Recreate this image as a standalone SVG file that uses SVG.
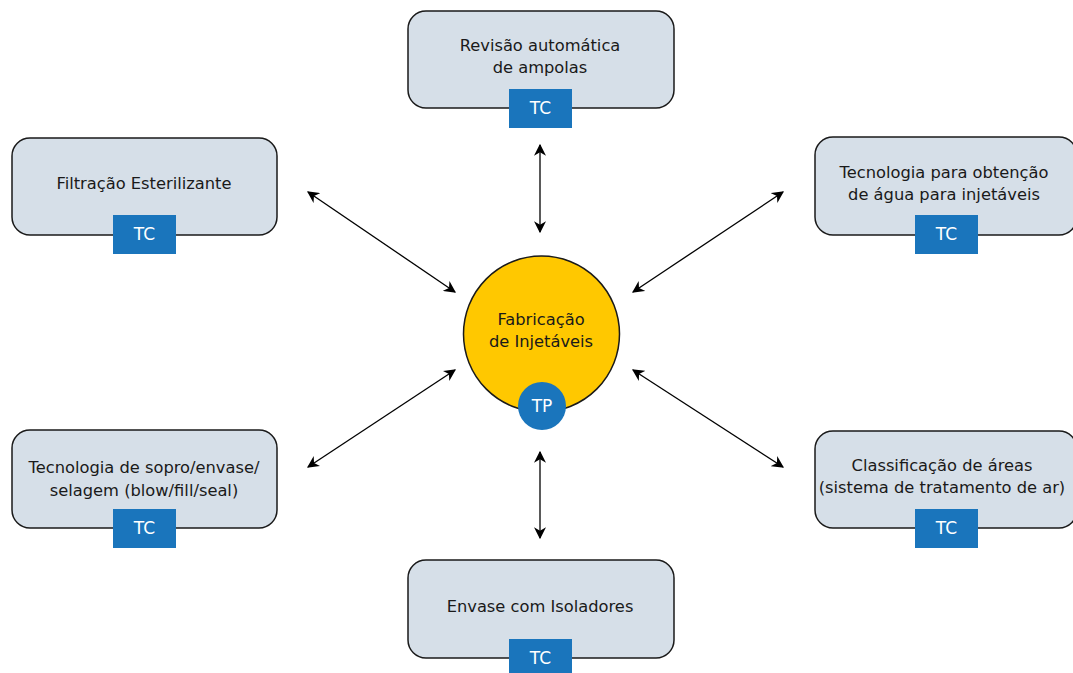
<svg xmlns="http://www.w3.org/2000/svg" width="1073" height="673" viewBox="0 0 1073 673">
<defs>
<style>
.box{fill:#d6dfe8;stroke:#1a1a1a;stroke-width:1.5}
.tc{fill:#1a75bc}
.t{font-family:"DejaVu Sans",sans-serif;font-size:16.3px;fill:#1a1a1a;text-anchor:middle}
.w{font-family:"DejaVu Sans",sans-serif;font-size:17px;fill:#ffffff;text-anchor:middle}
.c{stroke:#000;stroke-width:1.3;fill:none;marker-start:url(#a);marker-end:url(#a)}
</style>
<marker id="a" viewBox="0 0 10 10" refX="9" refY="5" markerWidth="12" markerHeight="12" markerUnits="userSpaceOnUse" orient="auto-start-reverse">
<path d="M0,0 L10,5 L0,10 L3,5 Z" fill="#000"/>
</marker>
</defs>
<g id="connectors">
<line class="c" x1="540" y1="145" x2="540" y2="232"/>
<line class="c" x1="540" y1="452" x2="540" y2="538"/>
<line class="c" x1="308" y1="192" x2="455" y2="292"/>
<line class="c" x1="308" y1="467" x2="455" y2="370"/>
<line class="c" x1="783" y1="192" x2="633" y2="292"/>
<line class="c" x1="783" y1="467" x2="633" y2="370"/>
</g>
<g id="center">
<circle cx="541.5" cy="334" r="78" fill="#ffc800" stroke="#1a1a1a" stroke-width="1.5"/>
<text class="t" x="541" y="325">Fabricação</text>
<text class="t" x="541" y="347">de Injetáveis</text>
<circle cx="542" cy="406" r="24" fill="#1a75bc"/>
<text class="w" x="542" y="412">TP</text>
</g>
<g id="top">
<rect class="box" x="408" y="11" width="266" height="97" rx="18"/>
<text class="t" x="540" y="51">Revisão automática</text>
<text class="t" x="540" y="73">de ampolas</text>
<rect class="tc" x="509" y="89" width="63" height="39"/>
<text class="w" x="540.5" y="114">TC</text>
</g>
<g id="filtracao">
<rect class="box" x="12" y="138" width="265" height="97" rx="18"/>
<text class="t" x="144" y="189">Filtração Esterilizante</text>
<rect class="tc" x="113" y="215" width="63" height="39"/>
<text class="w" x="144.5" y="240">TC</text>
</g>
<g id="agua">
<rect class="box" x="815" y="137" width="262" height="98" rx="18"/>
<text class="t" x="944" y="178">Tecnologia para obtenção</text>
<text class="t" x="944" y="200">de água para injetáveis</text>
<rect class="tc" x="915" y="215" width="63" height="39"/>
<text class="w" x="946.5" y="240">TC</text>
</g>
<g id="sopro">
<rect class="box" x="12" y="430" width="265" height="98" rx="18"/>
<text class="t" x="144" y="473">Tecnologia de sopro/envase/</text>
<text class="t" x="144" y="496">selagem (blow/fill/seal)</text>
<rect class="tc" x="113" y="509" width="63" height="39"/>
<text class="w" x="144.5" y="534">TC</text>
</g>
<g id="areas">
<rect class="box" x="815" y="431" width="262" height="97" rx="18"/>
<text class="t" x="942" y="471">Classificação de áreas</text>
<text class="t" x="942" y="493">(sistema de tratamento de ar)</text>
<rect class="tc" x="915" y="509" width="63" height="39"/>
<text class="w" x="946.5" y="534">TC</text>
</g>
<g id="isoladores">
<rect class="box" x="408" y="560" width="266" height="98" rx="18"/>
<text class="t" x="540" y="612">Envase com Isoladores</text>
<rect class="tc" x="509" y="639" width="63" height="39"/>
<text class="w" x="540.5" y="664">TC</text>
</g>
</svg>
